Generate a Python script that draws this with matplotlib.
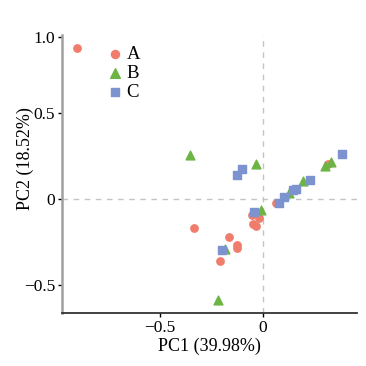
import matplotlib
matplotlib.use("Agg")
import matplotlib.pyplot as plt

plt.rcParams['font.family'] = ['Liberation Serif', 'DejaVu Serif']
plt.rcParams['axes.unicode_minus'] = True

# PCA scores
a_x = [-0.903, 0.063, -0.052, -0.021, -0.050, -0.034, -0.335, -0.163, -0.125, -0.126, -0.209, 0.317]
a_y = [0.879, -0.023, -0.094, -0.114, -0.150, -0.160, -0.169, -0.225, -0.268, -0.285, -0.362, 0.200]

b_x = [-0.354, -0.034, 0.196, 0.301, 0.330, 0.128, -0.010, -0.183, -0.217]
b_y = [0.253, 0.204, 0.104, 0.190, 0.214, 0.031, -0.065, -0.293, -0.590]

c_x = [0.385, -0.100, -0.128, 0.227, 0.159, 0.147, 0.104, 0.078, -0.042, -0.199]
c_y = [0.262, 0.172, 0.135, 0.108, 0.056, 0.050, 0.012, -0.027, -0.079, -0.297]

fig = plt.figure(figsize=(3.66, 3.66), dpi=100)
ax = fig.add_axes([0.169, 0.145, 0.806, 0.76])

ax.axvline(0, color="#c4c4c4", ls=(0, (4, 4)), lw=1, zorder=0)
ax.axhline(0, color="#c4c4c4", ls=(0, (4, 4)), lw=1, zorder=0)

ax.scatter(a_x, a_y, marker="o", s=28, color="#f07c6c", label="A", zorder=3)
ax.scatter(b_x, b_y, marker="^", s=40, color="#6cb544", label="B", zorder=3)
ax.scatter(c_x, c_y, marker="s", s=28, color="#7c93d0", label="C", zorder=3)

ax.set_xlim(-0.976, 0.455)
ax.set_ylim(-0.665, 0.954)
ax.set_xticks([-0.5, 0])
ax.set_xticklabels(["\u22120.5", "0"])
ax.set_yticks([-0.5, 0, 0.5, 0.942])
ax.set_yticklabels(["\u22120.5", "0", "0.5", "1.0"])
ax.tick_params(labelsize=12.5, length=3, width=1, color="black", pad=2)

ax.spines["top"].set_visible(False)
ax.spines["right"].set_visible(False)
ax.spines["left"].set_color("#a0a0a0")
ax.spines["left"].set_linewidth(1.8)
ax.spines["bottom"].set_color("#333333")
ax.spines["bottom"].set_linewidth(1.3)

ax.set_xlabel("PC1 (39.98%)", fontsize=13)
ax.set_ylabel("PC2 (18.52%)", fontsize=13)
ax.xaxis.set_label_coords(0.5, -0.088)
ax.yaxis.set_label_coords(-0.095, 0.555)

ax.legend(loc="upper left", bbox_to_anchor=(0.294, 0.874), bbox_transform=fig.transFigure,
          frameon=False, fontsize=13.5, handlelength=0.8, handletextpad=0.2,
          labelspacing=0.1, borderpad=0, borderaxespad=0, markerscale=1.1)

fig.savefig("out.png", dpi=100)
